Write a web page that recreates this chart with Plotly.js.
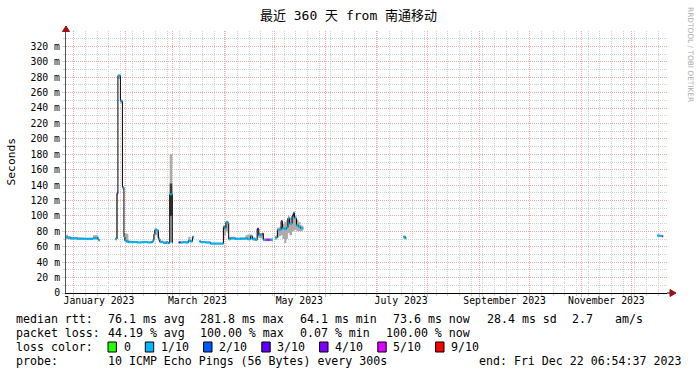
<!DOCTYPE html>
<html>
<head>
<meta charset="utf-8">
<script src="https://cdn.plot.ly/plotly-3.0.1.min.js"></script>
<style>html,body{margin:0;padding:0;background:#fff;}#chart{width:697px;height:375px;}</style>
</head>
<body>
<div id="chart"></div>
<script>
// ---------------- data ----------------
const rangeStart = '2022-12-27 06:54:37';
const rangeEnd   = '2023-12-22 06:54:37';

// sample times (an entry with null median closes the segment before it)
const t = [
'2022-12-27 08:00','2022-12-28 12:00','2022-12-30 00:00','2023-01-01 00:00','2023-01-03 00:00',
'2023-01-05 00:00','2023-01-07 00:00','2023-01-09 00:00','2023-01-11 00:00','2023-01-12 12:00',
'2023-01-14 00:00','2023-01-15 06:00','2023-01-16 00:00','2023-01-16 12:00',
'2023-01-25 21:00','2023-01-26 19:00','2023-01-27 09:00','2023-01-28 07:00','2023-01-28 21:00',
'2023-01-29 12:00','2023-01-30 02:00','2023-01-30 12:00','2023-01-31 00:00','2023-01-31 14:00',
'2023-02-01 12:00','2023-02-02 16:00','2023-02-05 00:00','2023-02-08 00:00','2023-02-11 00:00',
'2023-02-14 00:00','2023-02-16 12:00','2023-02-17 08:00','2023-02-17 22:00','2023-02-18 12:00',
'2023-02-19 17:00','2023-02-20 15:00','2023-02-21 12:00','2023-02-23 12:00','2023-02-25 12:00',
'2023-02-26 12:00','2023-02-27 10:00','2023-02-28 06:00','2023-02-28 23:00','2023-03-01 06:00',
'2023-03-04 19:00','2023-03-05 19:00','2023-03-07 14:00','2023-03-09 00:00','2023-03-10 14:00',
'2023-03-11 19:00','2023-03-13 00:00','2023-03-13 12:00','2023-03-14 00:00',
'2023-03-17 05:00','2023-03-18 00:00','2023-03-20 19:00','2023-03-23 19:00','2023-03-26 19:00',
'2023-03-30 17:00','2023-03-31 14:00','2023-04-01 04:00','2023-04-02 02:00','2023-04-02 23:00',
'2023-04-03 18:00','2023-04-04 19:00','2023-04-07 19:00','2023-04-10 19:00','2023-04-13 19:00',
'2023-04-15 00:00','2023-04-16 19:00','2023-04-17 22:00','2023-04-19 17:00','2023-04-20 19:00',
'2023-04-21 19:00','2023-04-22 17:00','2023-04-23 19:00','2023-04-24 12:00','2023-04-26 00:00',
'2023-04-27 05:00','2023-04-28 10:00','2023-04-29 14:00','2023-04-30 06:00',
'2023-05-01 10:00','2023-05-02 08:00','2023-05-02 22:00','2023-05-04 02:00','2023-05-05 03:00',
'2023-05-05 22:00','2023-05-07 02:00','2023-05-08 07:00','2023-05-09 05:00','2023-05-10 03:00',
'2023-05-11 17:00','2023-05-12 12:00','2023-05-13 03:00','2023-05-14 08:00','2023-05-15 12:00',
'2023-05-16 17:00','2023-05-17 22:00','2023-05-18 12:00',
'2023-07-17 10:00','2023-07-18 14:00','2023-07-19 04:00',
'2023-12-16 14:00','2023-12-18 02:00','2023-12-19 10:00','2023-12-20 00:00'
];

// median rtt in ms
const med = [
72.5,71.5,71,71,70.5, 70.5,70,70,70,71.5, 72,70,68,null,
70,129,282,282,249, 249,137,137,73,68, 67,66,66,65.5,66, 65.5,66,68,76,82, 81,70,66,65,66, 64.5,128,128,65,null,
65.7,65.5,66,65.5,68, 67,73,73,null,
67,66,65.5,64,64, 64,86,84,92,91, 70,71,70,70.5,71, 70,74,70,69,83, 75,75,77,69,69, 69,69,69,null,
72,72,82,82,93, 84,83,85,97,90, 100,104,97,88,86, 84,84,null,
73,71,null,
74.5,74,73.6,null
];

// loss colour class: 0 -> "0", 1 -> "1/10", 2 -> "2/10", 3 -> "3/10", 4 -> "4/10", 5 -> "5/10", 6 -> "9/10"
const loss = [
1,1,1,1,1, 1,1,1,1,1, 1,1,1,null,
1,3,1,1,1, 1,1,1,1,1, 1,1,1,1,1, 1,1,1,1,1, 1,1,1,1,1, 1,1,1,1,null,
3,1,1,1,1, 1,1,1,null,
1,1,1,1,1, 1,1,1,1,1, 1,1,1,1,1, 1,1,1,1,3, 1,1,6,1,5, 5,1,1,null,
1,1,1,1,3, 1,1,1,1,1, 3,1,1,1,1, 1,1,null,
1,1,null,
1,1,6,null
];

// smoke (ping spread) lower / upper bound in ms
const smokeLo = [
70,69.5,69,69,69, 69,68.5,68.5,68.5,69, 69,68,67,null,
68,70,278,278,246, 246,134,134,68,66, 65,65,65,64.5,65, 64.5,65,66,70,75, 72,67,65,64,64.5, 64,66,66,64,null,
64.5,64.5,65,64.5,66, 65.5,68,70,null,
65.5,65,64.5,63.5,63.5, 63.5,70,75,80,78, 68,69,68.5,69,69, 68,69,68,67.5,72, 71,71,70,67,67, 67,67.5,67.5,null,
69,69,72,74,75, 70,65,70,78,75, 80,80,82,80,80, 80,81,null,
70,69.5,null,
73,72.5,72.5,null
];
const smokeHi = [
75.5,74,73,73,72.5, 72,71.5,71.5,72,75, 75,73,70,null,
72,132,284,284,251, 251,139,139,78,78, 77,68,67.5,67,67.5, 67,67.5,70,80,84, 83,73,68,67,67.5, 66,180,180,67,null,
67,67,67.5,67,73, 69,74,74,null,
68.5,67.5,67,65.5,65.5, 65.5,88,88,94,93, 73,73,72,72.5,75, 76,76,72.5,71,85, 78,78,78,71,71, 71,71,71,null,
74,75,85,86,95, 90,92,95,100,98, 103,106,100,95,92, 88,87,null,
74.5,73,null,
76,75.5,75,null
];

// dense core of the smoke around the late-February spike
const coreT  = ['2023-02-27 10:00','2023-02-28 06:00','2023-02-28 23:00'];
const coreLo = [100, 100];
const coreHi = [142, 142];

const yTickVals = [0,20,40,60,80,100,120,140,160,180,200,220,240,260,280,300,320];
const monthStarts = ['2023-01-01','2023-02-01','2023-03-01','2023-04-01','2023-05-01','2023-06-01',
                     '2023-07-01','2023-08-01','2023-09-01','2023-10-01','2023-11-01','2023-12-01'];
const monthLabelPos = ['2023-01-16','2023-03-16','2023-05-16','2023-07-16','2023-09-16','2023-11-16'];
const monthLabels = ['January 2023','March 2023','May 2023','July 2023','September 2023','November 2023'];

const lossColors = ['#26ff00','#00b8ff','#0059ff','#5e00ff','#7e00ff','#dd00ff','#ff0000'];
const lossLabels = ['0','1/10','2/10','3/10','4/10','5/10','9/10'];

const statsRtt  = ['76.1 ms avg','281.8 ms max','64.1 ms min','73.6 ms now','28.4 ms sd','2.7','am/s'];
const statsLoss = ['44.19 % avg','100.00 % max','0.07 % min','100.00 % now'];
const probeText = '10 ICMP Echo Pings (56 Bytes) every 300s';
const endText   = 'end: Fri Dec 22 06:54:37 2023';
const titleText = '最近 360 天 from 南通移动';

// ---------------- build traces ----------------
const MONO = 'DejaVu Sans Mono, Noto Sans CJK SC, monospace';

function stepPolygons(times, lo, hi, valid) {
  const X = [], Y = [];
  let i = 0;
  while (i < times.length - 1) {
    if (!valid(i)) { i++; continue; }
    let j = i; while (j < times.length - 1 && valid(j)) j++;
    const up = [], dn = [];
    for (let k = i; k < j; k++) {
      up.push([times[k], hi[k]], [times[k+1], hi[k]]);
      dn.push([times[k], lo[k]], [times[k+1], lo[k]]);
    }
    dn.reverse();
    up.concat(dn).forEach(p => { X.push(p[0]); Y.push(p[1]); });
    X.push(null); Y.push(null);
    i = j;
  }
  return [X, Y];
}

const traces = [];
const sm = stepPolygons(t, smokeLo, smokeHi, k => med[k] !== null);
traces.push({
  x: sm[0], y: sm[1], type: 'scatter', mode: 'lines', fill: 'toself',
  fillcolor: '#ababab', line: {width: 0, color: 'rgba(0,0,0,0)'}, hoverinfo: 'skip', showlegend: false
});
const core = stepPolygons(coreT, coreLo, coreHi, k => k < coreLo.length);
traces.push({
  x: core[0], y: core[1], type: 'scatter', mode: 'lines', fill: 'toself',
  fillcolor: '#3a3a3a', line: {width: 0, color: 'rgba(0,0,0,0)'}, hoverinfo: 'skip', showlegend: false
});
traces.push({
  x: t, y: med, type: 'scatter', mode: 'lines', line: {color: '#000000', width: 1, shape: 'hv'},
  connectgaps: false, hoverinfo: 'skip', showlegend: false
});
for (let c = 0; c < lossColors.length; c++) {
  const xs = [], ys = [];
  for (let k = 0; k < t.length; k++) {
    if (med[k] === null || loss[k] !== c) continue;
    xs.push(t[k], t[k+1], null); ys.push(med[k], med[k], null);
  }
  if (!xs.length) continue;
  traces.push({x: xs, y: ys, type: 'scatter', mode: 'lines', line: {color: lossColors[c], width: 2},
    hoverinfo: 'skip', showlegend: false, name: lossLabels[c]});
}
// carrier trace for the label axis
traces.push({x: [rangeStart, rangeEnd], y: [null, null], xaxis: 'x2', type: 'scatter', mode: 'markers',
  hoverinfo: 'skip', showlegend: false});

// ---------------- layout helpers (pixel -> paper) ----------------
const L = 66, R = 667, T = 31, B = 293;
const px = v => (v - L) / (R - L);
const py = v => (B - v) / (B - T);

const annotations = [];
function txt(s, x, y, opt) {
  annotations.push(Object.assign({text: s, x: px(x), y: py(y), xref: 'paper', yref: 'paper',
    xanchor: 'left', yanchor: 'middle', showarrow: false, borderpad: 0,
    font: {family: MONO, size: 11.6, color: '#000'}}, opt || {}));
}
const lx = [106.6, 199.4, 299.4, 391.9, 485.7, 571.4, 613.7];
txt('median rtt:', 15.4, 319);
statsRtt.forEach((s, k) => txt(s, lx[k], 319));
const lx2 = [106.6, 199.4, 299.4, 385.2];
txt('packet loss:', 15.4, 333);
statsLoss.forEach((s, k) => txt(s, lx2[k], 333));
txt('loss color:', 15.4, 347);
const boxX = [108, 145.3, 203.6, 261.8, 319.6, 377.8, 435.6];
const shapes = [];
lossLabels.forEach((s, k) => {
  txt(s, boxX[k] + 14.6, 347);
  shapes.push({type: 'rect', xref: 'paper', yref: 'paper', x0: px(boxX[k]), x1: px(boxX[k] + 8.4),
    y0: py(352), y1: py(342), fillcolor: lossColors[k], line: {color: '#000', width: 1}});
});
txt('probe:', 15.4, 361);
txt(probeText, 106.6, 361);
txt(endText, 477.7, 361);

// y-axis title
annotations.push({text: 'Seconds', x: px(10.5), y: py(162), xref: 'paper', yref: 'paper', textangle: -90,
  xanchor: 'center', yanchor: 'middle', showarrow: false, font: {family: MONO, size: 11.3, color: '#000'}});
// watermark
annotations.push({text: 'RRDTOOL / TOBI OETIKER', x: px(690), y: py(54), xref: 'paper', yref: 'paper',
  textangle: 90, xanchor: 'center', yanchor: 'middle', showarrow: false,
  font: {family: 'DejaVu Sans, sans-serif', size: 7.4, color: '#aaaaaa'}});

// axis arrows
const arrowCol = '#a01010';
shapes.push({type: 'path', xref: 'paper', yref: 'paper',
  path: `M ${px(66)},${py(26)} L ${px(62.5)},${py(31.5)} L ${px(69.5)},${py(31.5)} Z`,
  fillcolor: arrowCol, line: {color: arrowCol, width: 1}});
shapes.push({type: 'line', xref: 'paper', yref: 'paper', x0: px(667), x1: px(671), y0: 0, y1: 0,
  line: {color: '#000', width: 1}});
shapes.push({type: 'path', xref: 'paper', yref: 'paper',
  path: `M ${px(676)},${py(293)} L ${px(670)},${py(289.5)} L ${px(670)},${py(296.5)} Z`,
  fillcolor: arrowCol, line: {color: arrowCol, width: 1}});

const gridGray = 'rgb(208,208,208)';
const gridRed = 'rgb(236,172,172)';

const layout = {
  width: 697, height: 375,
  margin: {l: L, r: 697 - R, t: T, b: 375 - B, pad: 0},
  paper_bgcolor: '#ffffff', plot_bgcolor: '#ffffff',
  showlegend: false,
  title: {text: titleText, x: 0.5, xref: 'container', xanchor: 'center', y: 1 - 15 / 375, yref: 'container',
    yanchor: 'middle', font: {family: MONO, size: 13, color: '#000'}},
  xaxis: {
    type: 'date', range: [rangeStart, rangeEnd], tickmode: 'array', tickvals: monthStarts,
    ticktext: monthStarts.map(() => ''), showgrid: true, gridcolor: gridRed, griddash: '1px,1px', gridwidth: 1,
    ticks: 'outside', ticklen: 3, tickcolor: gridRed, showline: true, linecolor: '#000', linewidth: 1,
    zeroline: false, fixedrange: true, layer: 'below traces',
    minor: {tickmode: 'linear', tick0: '2023-01-01', dtick: 7 * 86400000, showgrid: true, gridcolor: gridGray,
      griddash: '1px,1px', gridwidth: 1, ticks: 'outside', ticklen: 2, tickcolor: gridGray}
  },
  xaxis2: {
    type: 'date', overlaying: 'x', anchor: 'y', side: 'bottom', range: [rangeStart, rangeEnd],
    tickmode: 'array', tickvals: monthLabelPos, ticktext: monthLabels, showgrid: false, ticks: '',
    showline: false, zeroline: false, fixedrange: true,
    tickfont: {family: MONO, size: 9.8, color: '#000'}
  },
  yaxis: {
    range: [0, 340], tickmode: 'array', tickvals: yTickVals,
    ticktext: yTickVals.map(v => v === 0 ? '0' : v + ' m'),
    showgrid: true, gridcolor: gridRed, griddash: '1px,1px', gridwidth: 1,
    ticks: 'outside', ticklen: 3, tickcolor: gridGray, showline: true, linecolor: '#505050', linewidth: 1,
    zeroline: false, fixedrange: true,
    tickfont: {family: MONO, size: 9.8, color: '#000'},
    minor: {tickmode: 'linear', tick0: 0, dtick: 10, showgrid: true, gridcolor: gridGray, griddash: '1px,1px',
      gridwidth: 1, ticks: 'outside', ticklen: 2, tickcolor: gridGray}
  },
  annotations: annotations,
  shapes: shapes
};

Plotly.newPlot('chart', traces, layout, {staticPlot: true, displayModeBar: false});
</script>
</body>
</html>
